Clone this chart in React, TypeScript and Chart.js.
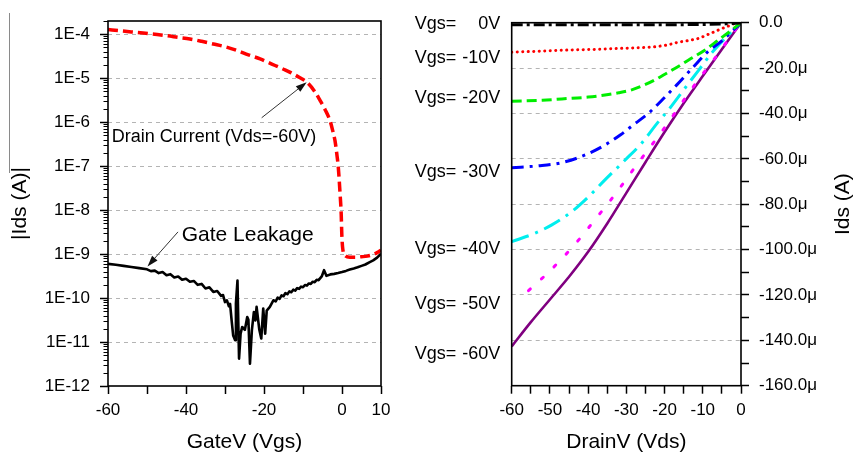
import React, { useEffect, useRef } from "react";
import { Chart, registerables } from "chart.js";

Chart.register(...registerables);

const FONT = "'Liberation Sans', Arial, Helvetica, sans-serif";
Chart.defaults.font.family = FONT;
Chart.defaults.color = "#000";

// ---------------- Left panel: transfer curve ----------------
const drainGateV = [-60, -57, -54, -51, -48, -45, -42, -39, -36, -33, -30, -27, -24, -21, -18, -15, -13, -11, -9, -7, -5.6, -4.3, -3.1, -2.4, -1.8, -1.3, -0.95, -0.5, -0.2, -0.05, 0.2, 0.8, 2, 3.5, 5, 6.5, 8, 9, 10];
const drainCurrent = [1.28e-4, 1.2e-4, 1.13e-4, 1.07e-4, 1.0e-4, 9.3e-5, 8.5e-5, 7.8e-5, 6.9e-5, 6.0e-5, 5.2e-5, 4.3e-5, 3.4e-5, 2.75e-5, 2.1e-5, 1.6e-5, 1.32e-5, 1.05e-5, 8.1e-6, 5.0e-6, 3.1e-6, 1.9e-6, 1.1e-6, 6.5e-7, 3.8e-7, 1.8e-7, 9.5e-8, 2.4e-8, 8e-9, 2.8e-9, 1.3e-9, 9.3e-10, 8.5e-10, 8.5e-10, 8.7e-10, 9.0e-10, 9.8e-10, 1.08e-9, 1.22e-9];

const leakGateV = [-60, -58, -56, -54, -52, -50, -49, -48, -47, -46, -45, -44, -43, -42, -41, -40, -39, -38, -37, -36, -35, -34, -33, -32, -31, -30.5, -30, -29.5, -29, -28.7, -28.3, -27.9, -27.4, -27.2, -26.8, -26.6, -26.4, -26.0, -25.6, -24.9, -24.3, -24.0, -23.6, -23.1, -22.6, -22.2, -21.9, -21.2, -20.7, -20.2, -19.7, -19.3, -18.5, -17.6, -17, -16.5, -16, -15.5, -15, -14.5, -14, -13.5, -13, -12.5, -12, -11.5, -11, -10.5, -10, -9.5, -9, -8.5, -8, -7.5, -7, -6.5, -6, -5.2, -4.6, -4.0, -3, -2, -1, 0, 1, 2, 3, 4, 5, 6, 7, 8, 9, 10];
const leakCurrent = [6.0e-10, 5.7e-10, 5.4e-10, 5.1e-10, 4.8e-10, 4.5e-10, 4.1e-10, 4.2e-10, 3.7e-10, 3.9e-10, 3.3e-10, 3.5e-10, 2.95e-10, 3.1e-10, 2.6e-10, 2.75e-10, 2.35e-10, 2.45e-10, 2.0e-10, 2.1e-10, 1.65e-10, 1.75e-10, 1.38e-10, 1.45e-10, 1.12e-10, 1.17e-10, 8.1e-11, 8.9e-11, 6.5e-11, 7.4e-11, 3.1e-11, 1.4e-11, 1.1e-11, 7.6e-11, 2.5e-10, 3.1e-11, 4.2e-12, 1.55e-11, 2.2e-11, 1.9e-11, 3.7e-11, 3.2e-11, 3.2e-12, 1.9e-11, 4.8e-11, 3.1e-11, 6.3e-11, 1.9e-11, 1.2e-11, 5.8e-11, 1.55e-11, 5.2e-11, 6.3e-11, 8.9e-11, 8.4e-11, 1.02e-10, 9.6e-11, 1.15e-10, 1.1e-10, 1.3e-10, 1.22e-10, 1.42e-10, 1.36e-10, 1.55e-10, 1.48e-10, 1.68e-10, 1.62e-10, 1.82e-10, 1.76e-10, 1.98e-10, 1.92e-10, 2.15e-10, 2.1e-10, 2.35e-10, 2.3e-10, 2.6e-10, 2.55e-10, 3.1e-10, 4.3e-10, 3.2e-10, 3.45e-10, 3.55e-10, 3.7e-10, 3.9e-10, 4.15e-10, 4.45e-10, 4.7e-10, 5.0e-10, 5.4e-10, 5.8e-10, 6.5e-10, 7.2e-10, 8.3e-10, 1.02e-9];

const logTickValues = [1e-12, 1e-11, 1e-10, 1e-9, 1e-8, 1e-7, 1e-6, 1e-5, 1e-4];
const logTickLabels = ["1E-12", "1E-11", "1E-10", "1E-9", "1E-8", "1E-7", "1E-6", "1E-5", "1E-4"];
const gateVTickLabels = [-60, -40, -20, 0, 10];

// annotation anchors (data coordinates)
const drainText = "Drain Current (Vds=-60V)";
const drainTextAt = { x: -59.05, y: 4.5e-7 };
const drainArrowFrom = { x: -20.6, y: 1.26e-6 };
const drainArrowTo = { x: -9.05, y: 8.1e-6 };
const leakText = "Gate Leakage";
const leakTextAt = { x: -41.1, y: 2.66e-9 };
const leakArrowFrom = { x: -42.05, y: 3.2e-9 };
const leakArrowTo = { x: -49.87, y: 5.25e-10 };

// ---------------- Right panel: output curves ----------------
const vgsNames = ["0V", "-10V", "-20V", "-30V", "-40V", "-50V", "-60V"];
const vgsLabelIds = [-0.5, -15.4, -33.3, -65.9, -99.9, -123.9, -146.1];

const vdsVgs0 = [-60, -45, -30, -15, -8, -4, -2, 0];
const idsVgs0 = [-0.9, -0.9, -0.9, -0.85, -0.7, -0.5, -0.3, 0];

const vdsVgs10 = [-60, -52, -44.3, -37, -31.2, -26, -22.5, -19, -16.4, -13.5, -11.1, -8.5, -5.9, -3.5, -1.5, 0];
const idsVgs10 = [-13.0, -12.5, -12.0, -11.7, -11.3, -11.0, -10.6, -9.7, -8.6, -7.8, -6.9, -5.1, -3.2, -1.6, -0.3, 0];

const vdsVgs20 = [-60, -52, -44.3, -40, -35.6, -32, -28.6, -25.5, -22.5, -19.8, -17.2, -13.7, -9.4, -5.9, -2.4, 0];
const idsVgs20 = [-34.6, -34.2, -33.3, -32.8, -31.9, -30.9, -29.6, -27.6, -25.2, -22.6, -20.1, -16.4, -12.0, -7.6, -3.2, 0];

const vdsVgs30 = [-60, -53, -46.9, -40.8, -35.6, -31.6, -28, -24.2, -19.8, -16.8, -12.8, -8.5, -5, -2.5, 0];
const idsVgs30 = [-63.9, -63.1, -61.7, -58.3, -53.9, -49.5, -44.8, -39.9, -32.6, -27.4, -20.1, -12.5, -8.0, -4.0, 0];

const vdsVgs40 = [-60, -53.9, -49.5, -44.3, -39.9, -35.6, -30.3, -26, -21.6, -19, -14.2, -11.1, -7.6, -4.1, -0.6, 0];
const idsVgs40 = [-96.5, -92.8, -89.1, -83.3, -76.7, -69.3, -60.5, -53.1, -43.6, -38.5, -27.8, -21.0, -13.2, -6.8, -1.0, 0];

const vdsVgs50 = [-55.6, -50.8, -46.2, -42.1, -38.2, -34.2, -30.8, -27.3, -23.8, -20.3, -16.8, -13.7, -10.2, -5.9, -1.5, 0];
const idsVgs50 = [-118.1, -110.7, -102.8, -95, -86.8, -78.4, -70.8, -62.7, -54.9, -47.0, -38.6, -31.1, -23.0, -13.5, -3.2, 0];

const vdsVgs60 = [-60, -55, -50, -45, -40, -35, -30, -25, -20, -15, -10, -5, 0];
const idsVgs60 = [-142.7, -132, -122, -112, -101, -88.5, -75, -61.5, -48.2, -35.5, -23.5, -11.7, 0];

const idsTickLabelStep = 20;
const vdsTickLabelStep = 10;

function toXY(xs: number[], ys: number[]) {
  return xs.map((x, i) => ({ x, y: ys[i] }));
}

function drawArrow(ctx: CanvasRenderingContext2D, x1: number, y1: number, x2: number, y2: number) {
  const ang = Math.atan2(y2 - y1, x2 - x1);
  const hl = 11;
  const hw = 3.6;
  const bx = x2 - hl * Math.cos(ang);
  const by = y2 - hl * Math.sin(ang);
  ctx.save();
  ctx.strokeStyle = "#333";
  ctx.fillStyle = "#111";
  ctx.lineWidth = 1;
  ctx.beginPath();
  ctx.moveTo(x1, y1);
  ctx.lineTo(bx, by);
  ctx.stroke();
  ctx.beginPath();
  ctx.moveTo(x2, y2);
  ctx.lineTo(bx + hw * Math.sin(ang), by - hw * Math.cos(ang));
  ctx.lineTo(bx - hw * Math.sin(ang), by + hw * Math.cos(ang));
  ctx.closePath();
  ctx.fill();
  ctx.restore();
}

const tickFont = { family: FONT, size: 17 };
const titleFont = { family: FONT, size: 21 };
const GRID_GRAY = "#b4b4b4";

function LeftChart() {
  const ref = useRef<HTMLCanvasElement | null>(null);
  useEffect(() => {
    if (!ref.current) return;
    const leftPlugin = {
      id: "leftDecor",
      afterDraw(chart: any) {
        const ctx = chart.ctx as CanvasRenderingContext2D;
        const { left, right, top, bottom } = chart.chartArea;
        const xs = chart.scales.x;
        const ys = chart.scales.y;
        ctx.save();
        ctx.strokeStyle = "#000";
        ctx.lineWidth = 1.6;
        ctx.strokeRect(left, top, right - left, bottom - top);
        ctx.lineWidth = 1;
        ctx.beginPath();
        for (let n = -12; n <= -4; n++) {
          for (let k = 2; k <= 9; k++) {
            const v = k * Math.pow(10, n);
            if (v > ys.max) continue;
            const y = Math.round(ys.getPixelForValue(v)) + 0.5;
            ctx.moveTo(left - 4.5, y);
            ctx.lineTo(left, y);
          }
        }
        ctx.stroke();
        ctx.strokeStyle = "#8a8a8a";
        ctx.lineWidth = 1;
        ctx.beginPath();
        ctx.moveTo(9.5, 13);
        ctx.lineTo(9.5, 173);
        ctx.stroke();
        ctx.fillStyle = "#000";
        ctx.textBaseline = "middle";
        ctx.textAlign = "left";
        ctx.font = `18px ${FONT}`;
        ctx.fillText(drainText, xs.getPixelForValue(drainTextAt.x), ys.getPixelForValue(drainTextAt.y));
        ctx.font = `21px ${FONT}`;
        ctx.fillText(leakText, xs.getPixelForValue(leakTextAt.x), ys.getPixelForValue(leakTextAt.y));
        drawArrow(ctx, xs.getPixelForValue(drainArrowFrom.x), ys.getPixelForValue(drainArrowFrom.y), xs.getPixelForValue(drainArrowTo.x), ys.getPixelForValue(drainArrowTo.y));
        drawArrow(ctx, xs.getPixelForValue(leakArrowFrom.x), ys.getPixelForValue(leakArrowFrom.y), xs.getPixelForValue(leakArrowTo.x), ys.getPixelForValue(leakArrowTo.y));
        ctx.restore();
      },
    };
    const chart = new Chart(ref.current, {
      type: "line",
      data: {
        datasets: [
          {
            label: "Drain Current",
            data: toXY(drainGateV, drainCurrent),
            borderColor: "#ff0000",
            borderWidth: 3.5,
            borderDash: [10, 5],
            pointRadius: 0,
            cubicInterpolationMode: "monotone",
            fill: false,
          },
          {
            label: "Gate Leakage",
            data: toXY(leakGateV, leakCurrent),
            borderColor: "#000",
            borderWidth: 2.6,
            pointRadius: 0,
            tension: 0,
            borderJoinStyle: "round",
            fill: false,
          },
        ],
      },
      plugins: [leftPlugin],
      options: {
        animation: false,
        responsive: false,
        events: [],
        layout: { padding: { left: 0, right: 19, top: 21, bottom: 0 } },
        plugins: { legend: { display: false }, tooltip: { enabled: false } },
        scales: {
          x: {
            type: "linear",
            min: -60,
            max: 10,
            afterFit: (s: any) => {
              s.height = 66;
            },
            ticks: {
              stepSize: 10,
              autoSkip: false,
              maxRotation: 0,
              padding: 6,
              color: "#000",
              font: tickFont,
              callback: (v: any) => (gateVTickLabels.includes(Number(v)) ? String(v) : ""),
            },
            grid: { drawOnChartArea: false, drawTicks: true, tickLength: 8, tickColor: "#000", tickWidth: 1.5 },
            border: { display: false },
            title: { display: true, text: "GateV (Vgs)", color: "#000", font: titleFont, padding: { top: 0, bottom: -3 } },
          },
          y: {
            type: "logarithmic",
            min: 1e-12,
            max: 2e-4,
            afterFit: (s: any) => {
              s.width = 108;
            },
            afterBuildTicks: (s: any) => {
              s.ticks = logTickValues.map((v) => ({ value: v }));
            },
            ticks: {
              autoSkip: false,
              padding: 10,
              color: "#000",
              font: tickFont,
              callback: (_v: any, i: number) => logTickLabels[i],
            },
            grid: {
              color: (c: any) => (c.tick && c.tick.value > 1.5e-12 ? GRID_GRAY : "rgba(0,0,0,0)"),
              lineWidth: 1,
              tickLength: 8,
              tickColor: "#000",
              tickWidth: 1.5,
            },
            border: { display: false, dash: [4, 4] },
            title: { display: true, text: "|Ids (A)|", color: "#000", font: titleFont, padding: { top: 8, bottom: 0 } },
          },
        },
      },
    } as any);
    return () => chart.destroy();
  }, []);
  return <canvas ref={ref} width={400} height={452} style={{ position: "absolute", left: 0, top: 0 }} />;
}

function RightChart() {
  const ref = useRef<HTMLCanvasElement | null>(null);
  useEffect(() => {
    if (!ref.current) return;
    const rightPlugin = {
      id: "rightDecor",
      afterDraw(chart: any) {
        const ctx = chart.ctx as CanvasRenderingContext2D;
        const { left, right, top, bottom } = chart.chartArea;
        const ys = chart.scales.y;
        ctx.save();
        ctx.strokeStyle = "#000";
        ctx.lineWidth = 1.6;
        ctx.strokeRect(left, top, right - left, bottom - top);
        ctx.fillStyle = "#000";
        ctx.font = `18px ${FONT}`;
        ctx.textBaseline = "middle";
        vgsNames.forEach((name, i) => {
          const y = ys.getPixelForValue(vgsLabelIds[i]);
          ctx.textAlign = "left";
          ctx.fillText("Vgs=", left - 97, y);
          ctx.textAlign = "right";
          ctx.fillText(name, left - 11.5, y);
        });
        ctx.font = `21px ${FONT}`;
        ctx.textAlign = "center";
        ctx.translate(chart.width - 12.5, (top + bottom) / 2);
        ctx.rotate(-Math.PI / 2);
        ctx.fillText("Ids (A)", 0, 0);
        ctx.restore();
      },
    };
    const base = { pointRadius: 0, borderWidth: 3, fill: false, cubicInterpolationMode: "monotone" };
    const chart = new Chart(ref.current, {
      type: "line",
      data: {
        datasets: [
          { ...base, label: "Vgs=0V", data: toXY(vdsVgs0, idsVgs0), borderColor: "#000000", borderDash: [11, 4, 3, 4] },
          { ...base, label: "Vgs=-10V", data: toXY(vdsVgs10, idsVgs10), borderColor: "#ff0000", borderDash: [0.1, 5.4], borderCapStyle: "round" },
          { ...base, label: "Vgs=-20V", data: toXY(vdsVgs20, idsVgs20), borderColor: "#00ee00", borderDash: [10, 5] },
          { ...base, label: "Vgs=-30V", data: toXY(vdsVgs30, idsVgs30), borderColor: "#0000ff", borderDash: [12, 6, 3, 6] },
          { ...base, label: "Vgs=-40V", data: toXY(vdsVgs40, idsVgs40), borderColor: "#00eeee", borderDash: [18, 7, 3, 7] },
          { ...base, label: "Vgs=-50V", data: toXY(vdsVgs50, idsVgs50), borderColor: "#ff00ff", borderDash: [2.5, 15], borderCapStyle: "round" },
          { ...base, label: "Vgs=-60V", data: toXY(vdsVgs60, idsVgs60), borderColor: "#800080", borderWidth: 2.6 },
        ],
      },
      plugins: [rightPlugin],
      options: {
        animation: false,
        responsive: false,
        events: [],
        layout: { padding: { left: 111.7, right: 0, top: 22.7, bottom: 0 } },
        plugins: { legend: { display: false }, tooltip: { enabled: false } },
        scales: {
          x: {
            type: "linear",
            min: -60,
            max: 0,
            afterFit: (s: any) => {
              s.height = 66.3;
            },
            ticks: {
              stepSize: 5,
              autoSkip: false,
              maxRotation: 0,
              padding: 6,
              color: "#000",
              font: tickFont,
              callback: (v: any) => (Number(v) % vdsTickLabelStep === 0 ? String(v) : ""),
            },
            grid: { drawOnChartArea: false, drawTicks: true, tickLength: 8, tickColor: "#000", tickWidth: 1.5 },
            border: { display: false },
            title: { display: true, text: "DrainV (Vds)", color: "#000", font: titleFont, padding: { top: 0, bottom: -3 } },
          },
          y: {
            type: "linear",
            position: "right",
            min: -160,
            max: 0,
            afterFit: (s: any) => {
              s.width = 115;
            },
            ticks: {
              stepSize: 10,
              autoSkip: false,
              padding: 10,
              color: "#000",
              font: tickFont,
              callback: (v: any) => {
                const n = Number(v);
                if (n % idsTickLabelStep !== 0) return "";
                return n === 0 ? "0.0" : n.toFixed(1) + "\u03bc";
              },
            },
            grid: {
              color: (c: any) => {
                const v = c.tick ? c.tick.value : 0;
                return v % idsTickLabelStep === 0 && v !== 0 && v !== -160 ? GRID_GRAY : "rgba(0,0,0,0)";
              },
              lineWidth: 1,
              tickLength: 8,
              tickColor: "#000",
              tickWidth: 1.5,
            },
            border: { display: false, dash: [4, 4] },
          },
        },
      },
    } as any);
    return () => chart.destroy();
  }, []);
  return <canvas ref={ref} width={456} height={452} style={{ position: "absolute", left: 400, top: 0 }} />;
}

export default function App() {
  return (
    <div style={{ position: "fixed", left: 0, top: 0, width: 856, height: 452, background: "#fff", overflow: "hidden" }}>
      <LeftChart />
      <RightChart />
    </div>
  );
}
